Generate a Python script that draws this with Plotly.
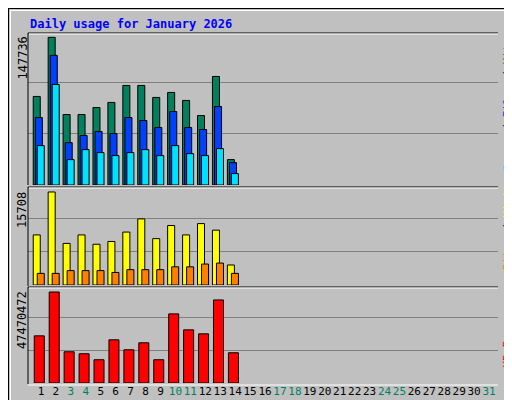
import plotly.graph_objects as go

days = list(range(1, 32))
d14 = list(range(1, 15))
hits = [88600,147736,70500,70500,77500,82600,99600,99600,87600,92600,84600,69500,108600,25400]
files = [67500,129700,42400,49500,53500,51500,67500,64500,57500,73500,57500,55500,78500,22400]
pages = [39400,100600,25400,35400,32400,29400,32400,35400,29400,39400,31400,29400,36400,11400]
visits = [8460,15708,7030,8460,6880,7350,8940,11160,7830,10050,8460,10370,9260,3380]
sites = [1960,1960,2430,2430,2430,2120,2590,2590,2590,3070,3070,3540,3700,1960]
kbytes = [24.6e6,47470472,16.29e6,15.25e6,12.13e6,22.52e6,17.33e6,20.96e6,12.13e6,36.04e6,27.72e6,25.64e6,43.31e6,15.77e6]
weekends = [3,4,10,11,17,18,24,25,31]

fig = go.Figure()
line = dict(color="black", width=1)
def bar(x, y, color, ax, off, w):
    fig.add_trace(go.Bar(x=x, y=y, marker=dict(color=color, line=line), xaxis="x"+ax if ax else "x",
                         yaxis="y"+ax if ax else "y", offset=off, width=w, showlegend=False))
bar(d14, hits, "#00805C", "", -0.52, 0.47)
bar(d14, files, "#0040FF", "", -0.38, 0.47)
bar(d14, pages, "#00E0FF", "", -0.25, 0.47)
bar(d14, visits, "#FFFF00", "2", -0.52, 0.47)
bar(d14, sites, "#FF8000", "2", -0.25, 0.47)
bar(d14, kbytes, "#FF0000", "3", -0.45, 0.67)

F1 = 147736*459/442; F2 = 15708/0.933; F3 = 47470472*294/274
xr = [0.13, 31.6]
ticktext = [f"<span style='color:#008060'>{d}</span>" if d in weekends else str(d) for d in days]
common = dict(showgrid=False, zeroline=False, showline=False, range=xr, fixedrange=True, automargin=False)
ycommon = dict(showticklabels=False, gridcolor="#808080", zeroline=False, automargin=False, fixedrange=True)
fig.update_layout(
    width=512, height=400, autosize=False, margin=dict(l=0, r=0, t=0, b=0, autoexpand=False),
    paper_bgcolor="#C0C0C0", plot_bgcolor="#C0C0C0", barmode="overlay",
    font=dict(family="DejaVu Sans Mono", size=11, color="black"),
    xaxis=dict(domain=[20/512, 490/512], anchor="y", showticklabels=False, **common),
    xaxis2=dict(domain=[20/512, 490/512], anchor="y2", showticklabels=False, **common),
    xaxis3=dict(domain=[20/512, 490/512], anchor="y3", tickvals=days, ticktext=ticktext, ticks="",
                tickangle=0, tickfont=dict(size=11), **common),
    yaxis=dict(domain=[1-177/400, 1-25/400], range=[0, F1*455/459], tickvals=[F1/3, 2*F1/3], **ycommon),
    yaxis2=dict(domain=[1-277/400, 1-180/400], range=[0, F2*289/297], tickvals=[F2/3, 2*F2/3], **ycommon),
    yaxis3=dict(domain=[1-375/400, 1-280/400], range=[0, F3*286/294], tickvals=[F3/3, 2*F3/3], **ycommon),
)
fig.add_annotation(xref="paper", yref="paper", x=20/512, y=1-7/400, xanchor="left", yanchor="top",
                   text="<b>Daily usage for January 2026</b>", showarrow=False,
                   font=dict(color="#0000FF", size=12))
for txt, ytop in [("147736", 27), ("15708", 182), ("47470472", 281)]:
    fig.add_annotation(xref="paper", yref="paper", x=14/512, y=1-ytop/400, xanchor="center", yanchor="top",
                       text=txt, textangle=-90, showarrow=False, font=dict(size=12))
for txt, ybot in [("<span style='color:#00E0FF'>Pages</span> / <span style='color:#0040FF'>Files</span> / <span style='color:#00805C'>Hits</span>", 165),
                  ("<span style='color:#FF8000'>Sites</span> / <span style='color:#FFFF00'>Visits</span>", 265),
                  ("<span style='color:#FF0000'>KB F</span>", 362)]:
    fig.add_annotation(xref="paper", yref="paper", x=499/512, y=1-ybot/400, xanchor="center", yanchor="bottom",
                       text=txt, textangle=-90, showarrow=False, font=dict(size=11))
def px(x0, y0, x1, y1, color, fill=None, w=1):
    fig.add_shape(type="rect" if fill else "line", xref="paper", yref="paper", x0=x0/512, x1=x1/512,
                  y0=1-y0/400, y1=1-y1/400, line=dict(color=color, width=w if not fill else 0),
                  fillcolor=fill, layer="above")
px(0, 0, 512, 1, None, "black"); px(0, 0, 1, 400, None, "black")
px(2, 2, 505, 3, None, "white"); px(2, 2, 3, 393, None, "white")
px(505, 0, 512, 400, None, "#808080"); px(0, 393, 512, 400, None, "#808080")
for t, b in [(25, 177), (179, 278), (279, 376)]:
    px(20, t, 490, t, "black"); px(20, t, 20, b, "black")
    px(21, t+1, 490, t+1, "white")
px(20, 377, 490, 377, "white")
fig.write_html("out.html")
